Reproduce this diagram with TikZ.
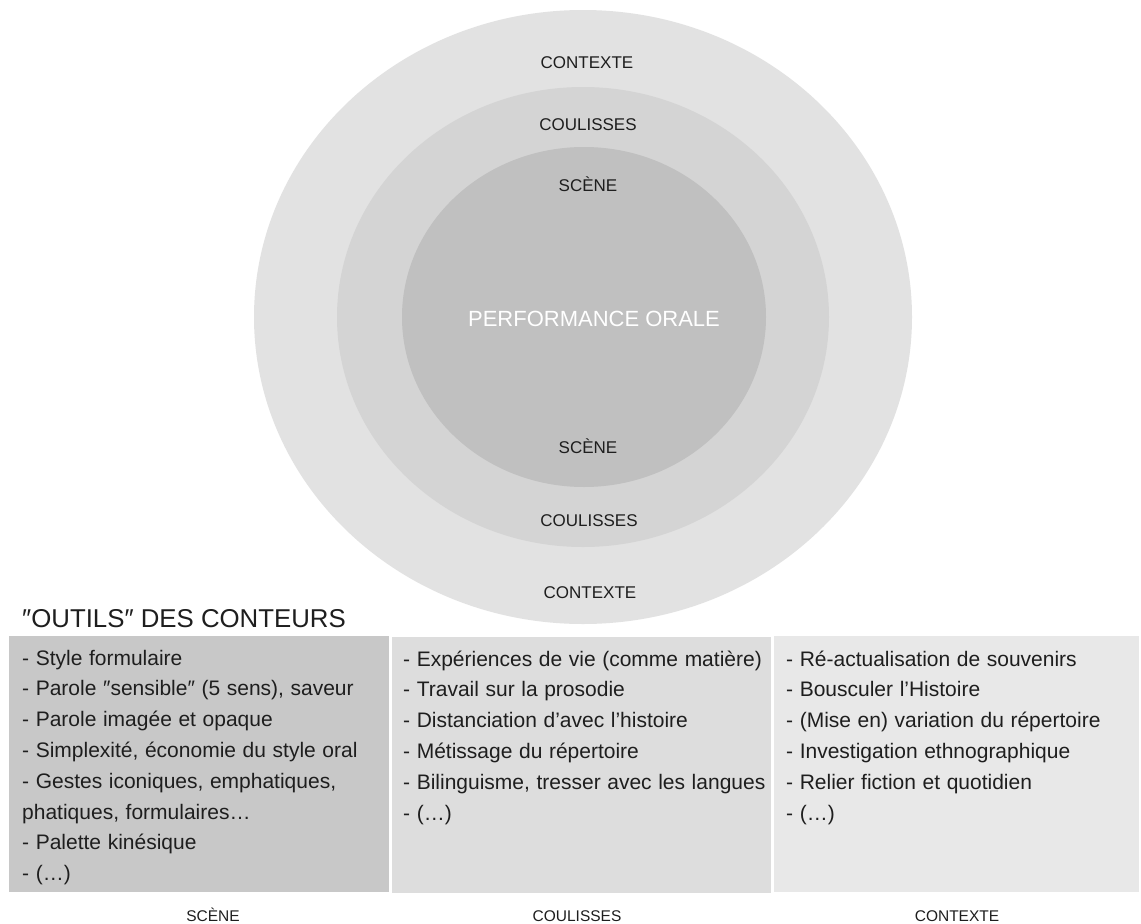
\documentclass[tikz,border=0pt]{standalone}
\usepackage{fontspec}
\setmainfont{Liberation Sans}
\usetikzlibrary{shapes.geometric}
\definecolor{ringC}{HTML}{E2E2E2}
\definecolor{ringB}{HTML}{D4D4D4}
\definecolor{ringA}{HTML}{C0C0C0}
\definecolor{boxA}{HTML}{C8C8C8}
\definecolor{boxB}{HTML}{DDDDDD}
\definecolor{boxC}{HTML}{E8E8E8}
\definecolor{ink}{HTML}{1E1E1E}
\newcommand{\sq}{″}
\newcommand{\itemfont}{\fontsize{21}{24}\selectfont\spaceskip=6.6pt plus 1pt\relax}
\tikzset{
  ring/.style={ellipse, inner sep=0pt, draw=none},
  ringlabel/.style={anchor=base, inner sep=0pt, text=ink, font=\fontsize{17}{20}\selectfont},
  panel/.style={anchor=north west, inner sep=0pt, draw=none},
  item/.style={anchor=base west, inner sep=0pt, text=ink, font=\itemfont},
  footlabel/.style={anchor=base, inner sep=0pt, text=ink, font=\fontsize{15.5}{18}\selectfont},
}
\begin{document}
\begin{tikzpicture}[x=1pt,y=-1pt]
\useasboundingbox (0,0) rectangle (1141,924);
\fill[white] (0,0) rectangle (1141,924);

% rings
\node[ring, fill=ringC, minimum width=658pt, minimum height=614pt] (outer) at (583,317) {};
\node[ring, fill=ringB, minimum width=492pt, minimum height=460pt] (middle) at (583,317) {};
\node[ring, fill=ringA, minimum width=364pt, minimum height=340pt] (inner) at (584,317) {};

\node[ringlabel] (ctxtop) at (587,68) {CONTEXTE};
\node[ringlabel] (coutop) at (588,130) {COULISSES};
\node[ringlabel] (scetop) at (588,191) {SCÈNE};
\node[anchor=base, inner sep=0pt, text=white, font=\fontsize{22}{26}\selectfont] (perf) at (594,326) {PERFORMANCE ORALE};
\node[ringlabel] (scebot) at (588,453) {SCÈNE};
\node[ringlabel] (coubot) at (589,526) {COULISSES};
\node[ringlabel] (ctxbot) at (590,598) {CONTEXTE};

% title
\node[anchor=base west, inner sep=0pt, text=ink, font=\fontsize{25.8}{30}\selectfont] (title) at (22,627) {\sq OUTILS\sq{} DES CONTEURS};

% panels
\node[panel, fill=boxA, minimum width=380pt, minimum height=256pt] (pA) at (9,636) {};
\node[panel, fill=boxB, minimum width=379pt, minimum height=256pt] (pB) at (392,637) {};
\node[panel, fill=boxC, minimum width=365pt, minimum height=256pt] (pC) at (774,636) {};

\foreach \t [count=\i] in {
  {- Style formulaire},
  {- Parole \sq sensible\sq{} (5 sens), saveur},
  {- Parole imagée et opaque},
  {- Simplexité, économie du style oral},
  {- Gestes iconiques, emphatiques,},
  {phatiques, formulaires…},
  {- Palette kinésique},
  {- (…)}}
  \node[item] (a\i) at (22,{665+30.8*(\i-1)}) {\t};

\foreach \t [count=\i] in {
  {- Expériences de vie (comme matière)},
  {- Travail sur la prosodie},
  {- Distanciation d'avec l'histoire},
  {- Métissage du répertoire},
  {- Bilinguisme, tresser avec les langues},
  {- (…)}}
  \node[item] (b\i) at (403,{666+30.8*(\i-1)}) {\t};

\foreach \t [count=\i] in {
  {- Ré-actualisation de souvenirs},
  {- Bousculer l'Histoire},
  {- (Mise en) variation du répertoire},
  {- Investigation ethnographique},
  {- Relier fiction et quotidien},
  {- (…)}}
  \node[item] (c\i) at (786,{666+30.8*(\i-1)}) {\t};

% footer labels
\node[footlabel] (fA) at (213,921) {SCÈNE};
\node[footlabel] (fB) at (577,921) {COULISSES};
\node[footlabel] (fC) at (957,921) {CONTEXTE};
\end{tikzpicture}
\end{document}
